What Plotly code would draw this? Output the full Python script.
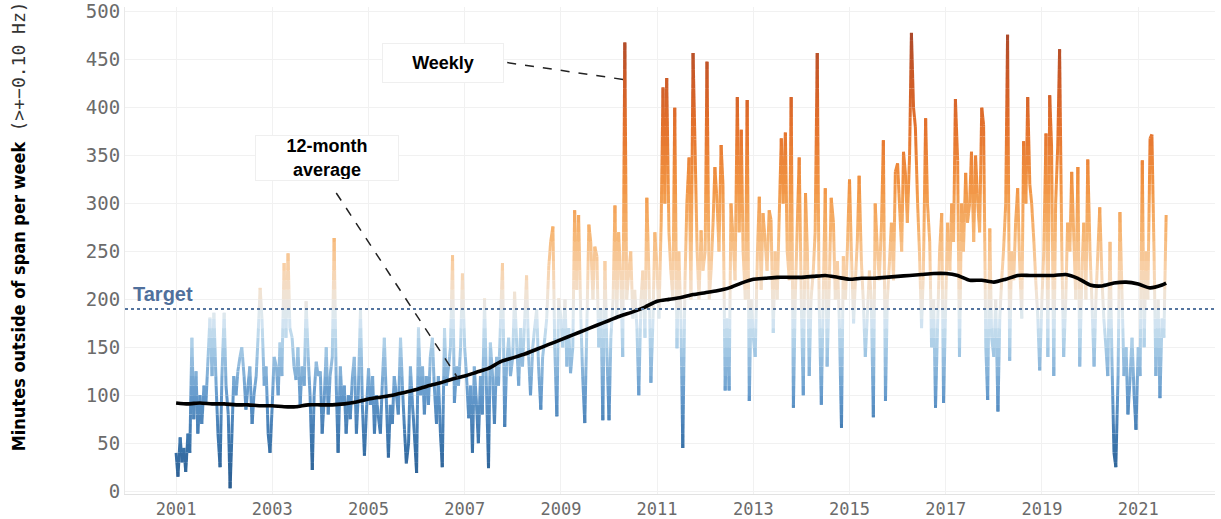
import numpy as np
import pandas as pd
import plotly.graph_objects as go

# ---- Weekly series (read semi-monthly from the picture), minutes per week ----
y2001 = [40, 15, 56, 30, 45, 20, 60, 40, 160, 75, 125, 60, 100, 70, 110, 90, 140, 181, 120, 186, 110, 60, 25, 120]
y2002 = [186, 110, 80, 3, 60, 120, 100, 125, 140, 150, 120, 85, 110, 130, 70, 100, 120, 160, 212, 180, 110, 130, 60, 40]
y2003 = [90, 140, 130, 100, 155, 120, 238, 160, 248, 170, 160, 130, 116, 150, 90, 130, 110, 198, 140, 100, 22, 100, 135, 120]
y2004 = [125, 60, 100, 150, 80, 120, 140, 264, 110, 40, 130, 90, 110, 60, 100, 75, 120, 140, 60, 100, 190, 90, 37, 80]
y2005 = [128, 90, 120, 60, 100, 80, 60, 110, 160, 100, 35, 90, 70, 120, 100, 80, 160, 110, 64, 29, 50, 130, 90, 60]
y2006 = [19, 171, 100, 130, 80, 120, 90, 140, 160, 110, 70, 120, 60, 25, 170, 110, 130, 150, 246, 92, 130, 110, 150, 227]
y2007 = [150, 120, 76, 110, 40, 130, 90, 50, 120, 80, 201, 110, 24, 155, 120, 70, 140, 110, 180, 238, 67, 130, 160, 120]
y2008 = [140, 208, 150, 110, 170, 130, 180, 225, 140, 100, 150, 170, 190, 130, 85, 140, 160, 180, 235, 260, 276, 150, 78, 201]
y2009 = [180, 150, 200, 130, 170, 123, 150, 293, 210, 288, 180, 120, 71, 160, 278, 260, 200, 255, 245, 150, 190, 74, 240, 150]
y2010 = [74, 160, 200, 298, 180, 270, 220, 140, 468, 200, 230, 250, 180, 210, 170, 100, 200, 230, 160, 306, 220, 113, 180, 270]
y2011 = [230, 180, 280, 421, 300, 431, 270, 230, 200, 400, 149, 250, 180, 45, 220, 300, 348, 200, 457, 367, 250, 200, 272, 230]
y2012 = [250, 448, 200, 230, 280, 338, 300, 250, 361, 320, 105, 180, 105, 300, 260, 220, 411, 270, 377, 250, 200, 408, 94, 200]
y2013 = [160, 140, 250, 307, 210, 290, 260, 230, 293, 283, 165, 250, 200, 280, 368, 300, 374, 250, 220, 411, 87, 200, 280, 348]
y2014 = [190, 100, 311, 250, 120, 200, 230, 270, 457, 200, 90, 200, 316, 130, 220, 306, 280, 200, 240, 180, 66, 245, 200, 250]
y2015 = [325, 250, 175, 220, 260, 329, 240, 200, 140, 180, 230, 200, 77, 300, 250, 220, 280, 366, 94, 200, 240, 280, 220, 333]
y2016 = [342, 300, 250, 354, 330, 280, 350, 478, 400, 380, 300, 250, 170, 230, 389, 300, 260, 150, 200, 87, 180, 250, 290, 92]
y2017 = [200, 280, 230, 300, 260, 409, 345, 140, 300, 250, 332, 280, 300, 354, 260, 350, 300, 270, 400, 382, 150, 95, 274, 160]
y2018 = [140, 200, 83, 180, 220, 250, 300, 476, 136, 250, 220, 280, 316, 240, 180, 365, 300, 411, 320, 300, 260, 220, 180, 126]
y2019 = [200, 250, 373, 140, 413, 360, 120, 300, 360, 461, 250, 140, 200, 280, 250, 333, 260, 200, 338, 130, 230, 280, 200, 346]
y2020 = [250, 200, 130, 200, 250, 296, 220, 180, 150, 120, 260, 140, 40, 25, 120, 291, 200, 120, 150, 80, 120, 160, 100, 64]
y2021 = [150, 120, 345, 150, 250, 200, 368, 372, 250, 120, 200, 97, 180, 160, 288]

weekly_values = (y2001 + y2002 + y2003 + y2004 + y2005 + y2006 + y2007 + y2008 + y2009 + y2010 +
                 y2011 + y2012 + y2013 + y2014 + y2015 + y2016 + y2017 + y2018 + y2019 + y2020 + y2021)
weekly_dates = pd.date_range("2001-01-01", periods=len(weekly_values), freq="SMS")

# ---- 12-month average (quarterly readings) ----
avg_values = [92, 91, 92, 91,
              91, 90, 90, 89,
              89, 88, 88, 90,
              90, 90, 91, 93,
              96, 98, 100, 103,
              106, 110, 113, 117,
              120, 124, 128, 135,
              139, 143, 148, 153,
              158, 163, 168, 173,
              178, 183, 187, 192,
              198, 200, 202, 205,
              207, 209, 212, 217,
              221, 222, 223, 223,
              223, 224, 225, 223,
              221, 222, 222, 223,
              224, 225, 226, 227,
              227, 225, 220, 220,
              218, 221, 225, 225,
              225, 225, 226, 222,
              215, 214, 217, 218,
              216, 212, 215, 217]
avg_dates = list(pd.date_range("2001-01-01", periods=len(avg_values) - 1, freq="QS")) + [pd.Timestamp("2021-08-01")]

target_value = 190
tick_years = ["2001", "2003", "2005", "2007", "2009", "2011", "2013", "2015", "2017", "2019", "2021"]

# ---- colour scale by value ----
stops = [(0, "#2a5b8e"), (50, "#3b74ab"), (100, "#6399cb"), (150, "#a7cbe6"),
         (180, "#d9e8f3"), (200, "#efe6dc"), (230, "#f8d3ad"), (270, "#f6b470"),
         (320, "#f19443"), (380, "#e4722d"), (430, "#cd5b27"), (480, "#a9482b")]


def hex2rgb(h):
    h = h.lstrip("#")
    return tuple(int(h[i:i + 2], 16) for i in (0, 2, 4))


def colour_at(v):
    if v <= stops[0][0]:
        return hex2rgb(stops[0][1])
    for (a, ca), (b, cb) in zip(stops[:-1], stops[1:]):
        if v <= b:
            t = (v - a) / (b - a)
            c1, c2 = hex2rgb(ca), hex2rgb(cb)
            return tuple(round(c1[k] + (c2[k] - c1[k]) * t) for k in range(3))
    return hex2rgb(stops[-1][1])


# split each line segment at value bands so the colour follows the value
band = 10
xs_ms = weekly_dates.values.astype("datetime64[ms]").astype(np.int64).astype(float)
buckets = {}
for i in range(len(weekly_values) - 1):
    x0, x1 = xs_ms[i], xs_ms[i + 1]
    v0, v1 = float(weekly_values[i]), float(weekly_values[i + 1])
    lo, hi = min(v0, v1), max(v0, v1)
    levels = [lv for lv in np.arange(0, 520, band) if lo < lv < hi]
    ts = [0.0] + sorted(((lv - v0) / (v1 - v0)) for lv in levels) + [1.0]
    for ta, tb in zip(ts[:-1], ts[1:]):
        xa, xb = x0 + (x1 - x0) * ta, x0 + (x1 - x0) * tb
        va, vb = v0 + (v1 - v0) * ta, v0 + (v1 - v0) * tb
        b = int(((va + vb) / 2) // band)
        bx, by = buckets.setdefault(b, ([], []))
        bx += [xa, xb, None]
        by += [va, vb, None]

fig = go.Figure()
for b in sorted(buckets):
    bx, by = buckets[b]
    r, g, bl = colour_at((b + 0.5) * band)
    fig.add_trace(go.Scatter(x=bx, y=by, mode="lines",
                             line=dict(color=f"rgb({r},{g},{bl})", width=3.0),
                             hoverinfo="skip", showlegend=False))

# target line
fig.add_hline(y=target_value, line=dict(color="#55759f", width=2, dash="dot"))

# 12-month average
fig.add_trace(go.Scatter(x=avg_dates, y=avg_values, mode="lines",
                         line=dict(color="black", width=3.6, shape="spline", smoothing=0.6),
                         showlegend=False))

# leader lines
fig.add_shape(type="line", x0="2007-11-20", y0=447, x1="2010-05-10", y1=429,
              line=dict(color="#222", width=1.5, dash="dash"))
fig.add_shape(type="line", x0="2004-05-01", y0=311, x1="2006-11-10", y1=118,
              line=dict(color="#222", width=1.5, dash="dash"))

label_font = dict(family="Liberation Sans, Arial, sans-serif", size=18, color="black")
fig.add_annotation(text="<b>Weekly</b>", xref="paper", yref="paper", x=0.2917, y=0.885,
                   xanchor="center", yanchor="middle",
                   showarrow=False, font=label_font, bgcolor="white",
                   bordercolor="#efefef", borderwidth=1, width=118, height=36)
fig.add_annotation(text="<b>12-month<br>average</b>", xref="paper", yref="paper", x=0.1853, y=0.69,
                   xanchor="center", yanchor="middle",
                   showarrow=False, font=label_font, bgcolor="white",
                   bordercolor="#efefef", borderwidth=1, width=140, height=42)
fig.add_annotation(text="<b>Target</b>", xref="paper", yref="paper", x=0.0055, y=0.41,
                   xanchor="left", yanchor="middle", showarrow=False,
                   font=dict(family="Liberation Sans, Arial, sans-serif", size=20, color="#50709c"))
fig.add_annotation(
    text="<b>Minutes outside of span per week</b>  "
         "<span style='font-family:DejaVu Sans Mono, monospace; color:#333'>(&gt;+−0.10 Hz)</span>",
    xref="paper", yref="paper", x=-0.098, y=0.55, textangle=-90, showarrow=False,
    xanchor="center", yanchor="middle",
    font=dict(family="Liberation Sans Narrow, DejaVu Sans Condensed, Arial Narrow, sans-serif",
              size=18, color="black"))

mono = dict(family="DejaVu Sans Mono, monospace", color="#6b6b6b")
fig.update_layout(
    width=1221, height=519,
    margin=dict(l=125, r=6, t=7, b=25, autoexpand=False),
    paper_bgcolor="white", plot_bgcolor="white",
    showlegend=False,
    xaxis=dict(type="date", range=["1999-12-10", "2022-08-07"], automargin=False,
               tickvals=[f"{y}-01-01" for y in tick_years], ticktext=tick_years,
               showgrid=True, gridcolor="#f1f1f1", gridwidth=1,
               showline=True, linecolor="#e2e2e2", linewidth=1,
               tickfont=dict(size=17, **mono), zeroline=False),
    yaxis=dict(range=[-3, 505], tickvals=list(range(0, 501, 50)), automargin=False,
               showgrid=True, gridcolor="#f1f1f1", gridwidth=1,
               showline=True, linecolor="#e8e8e8", linewidth=1,
               tickfont=dict(size=19, **mono), zeroline=False),
)

fig.write_html("out.html", config={"displayModeBar": False},
               post_script="document.body.style.margin='0px';document.body.style.overflow='hidden';")
